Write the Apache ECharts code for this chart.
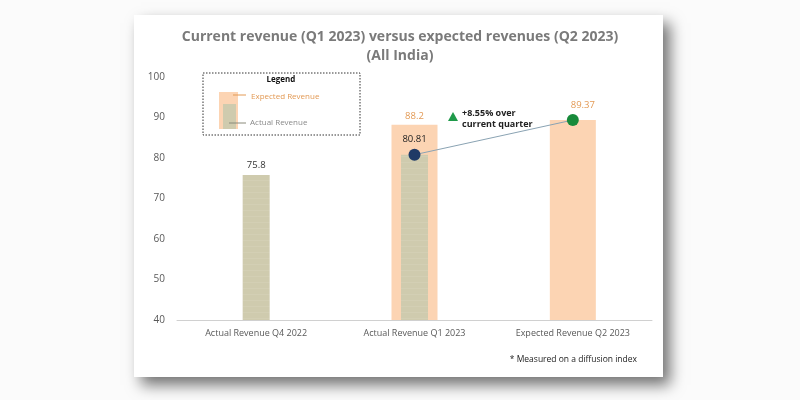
<!DOCTYPE html>
<html>
<head>
<meta charset="utf-8">
<script src="https://cdn.jsdelivr.net/npm/echarts@6/dist/echarts.min.js"></script>
<style>
  html, body { margin: 0; padding: 0; background: #fbfbfb; }
  #main { width: 800px; height: 400px; }
</style>
</head>
<body>
<div id="main"></div>
<script>
// chart data
const categories = ['Actual Revenue Q4 2022', 'Actual Revenue Q1 2023', 'Expected Revenue Q2 2023'];
const actualRevenue = [75.8, 80.81, null];
const expectedRevenue = [null, 88.2, 89.37];
const trendPoints = [null, 80.81, 89.37];
const yTicks = { min: 40, max: 100, interval: 10 };

const ORANGE = '#fcd4b3';
const KHAKI = '#cfcbae';
const txt = '#595959';

var myChart = echarts.init(document.getElementById('main'));

myChart.setOption({
  backgroundColor: '#fbfbfb',
  animation: false,
  title: {
    text: 'Current revenue (Q1 2023) versus expected revenues (Q2 2023)\n(All India)',
    left: 'center',
    top: 23,
    textStyle: { fontFamily: 'Open Sans', fontSize: 14, fontWeight: 'bold', color: '#7a7a7a', lineHeight: 19 }
  },
  grid: { left: 177, right: 148, top: 77, bottom: 80 },
  xAxis: [
    {
      type: 'category',
      data: categories,
      axisLine: { lineStyle: { color: '#d0d0d0' } },
      axisTick: { show: false },
      axisLabel: { interval: 0, color: txt, fontSize: 9, fontFamily: 'Open Sans', margin: 9 }
    },
    { type: 'category', data: categories, show: false }
  ],
  yAxis: {
    type: 'value',
    min: yTicks.min, max: yTicks.max, interval: yTicks.interval,
    splitLine: { show: false },
    axisLine: { show: false },
    axisLabel: { color: txt, fontSize: 10, fontFamily: 'Open Sans', margin: 12 }
  },
  series: [
    {
      name: 'Expected Revenue',
      type: 'bar',
      barWidth: 46,
      itemStyle: { color: ORANGE },
      data: expectedRevenue.map((v, i) => ({
        value: v,
        label: { show: i === 1, position: 'top', color: '#e39a55', fontSize: 9.5, fontFamily: 'Open Sans', distance: 3 }
      }))
    },
    {
      name: 'Actual Revenue',
      type: 'bar',
      xAxisIndex: 1,
      barWidth: 27,
      itemStyle: {
        color: KHAKI,
        decal: { symbol: 'rect', dashArrayX: [1, 0], dashArrayY: [1, 5], rotation: 0, color: 'rgba(255,255,255,0.08)' }
      },
      data: actualRevenue.map((v, i) => ({
        value: v,
        label: { show: i === 0, position: 'top', color: '#333', fontSize: 9.5, fontFamily: 'Open Sans', distance: 5 }
      }))
    },
    {
      name: 'Trend',
      type: 'line',
      z: 5,
      symbol: 'circle',
      symbolSize: 12,
      lineStyle: { color: '#8aa3b3', width: 1 },
      data: trendPoints.map((v, i) => ({
        value: v,
        itemStyle: { color: i === 1 ? '#1f3a66' : '#178a3a' },
        label: {
          show: v != null, position: 'top', distance: 4, fontSize: 9.5, fontFamily: 'Open Sans',
          color: i === 1 ? '#222' : '#e39a55', offset: i === 2 ? [10, 0] : [0, 0]
        }
      }))
    }
  ],
  graphic: [
    // card with shadow
    {
      type: 'rect', z: -100, silent: true,
      shape: { x: 134, y: 15, width: 529, height: 362 },
      style: { fill: '#fff', shadowBlur: 14, shadowOffsetX: 7, shadowOffsetY: 8, shadowColor: 'rgba(0,0,0,0.55)' }
    },
    // legend box
    {
      type: 'group', z: 100,
      children: [
        { type: 'rect', shape: { x: 203, y: 73, width: 157, height: 62 },
          style: { fill: 'none', stroke: '#333', lineWidth: 1, lineDash: [1.5, 1.5] } },
        { type: 'text', style: { x: 281, y: 80, text: 'Legend', fontSize: 8, fontWeight: 'bold', fontFamily: 'Open Sans', fill: '#111', align: 'center', verticalAlign: 'middle' } },
        { type: 'rect', shape: { x: 219, y: 92, width: 19, height: 37 }, style: { fill: ORANGE } },
        { type: 'rect', shape: { x: 223, y: 104, width: 13, height: 25 }, style: { fill: KHAKI } },
        { type: 'line', shape: { x1: 233, y1: 95, x2: 246, y2: 95 }, style: { stroke: '#e39a55', lineWidth: 1 } },
        { type: 'line', shape: { x1: 229, y1: 123, x2: 246, y2: 123 }, style: { stroke: '#8a8a7a', lineWidth: 1 } },
        { type: 'text', style: { x: 251, y: 97, text: 'Expected Revenue', fontSize: 8, fontFamily: 'Open Sans', fill: '#e39a55', verticalAlign: 'middle' } },
        { type: 'text', style: { x: 250, y: 123, text: 'Actual Revenue', fontSize: 8, fontFamily: 'Open Sans', fill: '#8a8a8a', verticalAlign: 'middle' } }
      ]
    },
    // growth annotation
    {
      type: 'polygon', z: 100,
      shape: { points: [[448, 121], [458, 121], [453, 112]] },
      style: { fill: '#1f9a4a' }
    },
    {
      type: 'text', z: 100,
      style: { x: 462, y: 108, text: '+8.55% over\ncurrent quarter', fontSize: 9, fontWeight: 'bold', fontFamily: 'Open Sans', fill: '#222', lineHeight: 11 }
    },
    // footnote
    {
      type: 'text', z: 100,
      style: { x: 637, y: 360, text: '* Measured on a diffusion index', fontSize: 8.5, fontFamily: 'Open Sans', fill: '#222', align: 'right', verticalAlign: 'middle' }
    }
  ]
});
</script>
</body>
</html>
